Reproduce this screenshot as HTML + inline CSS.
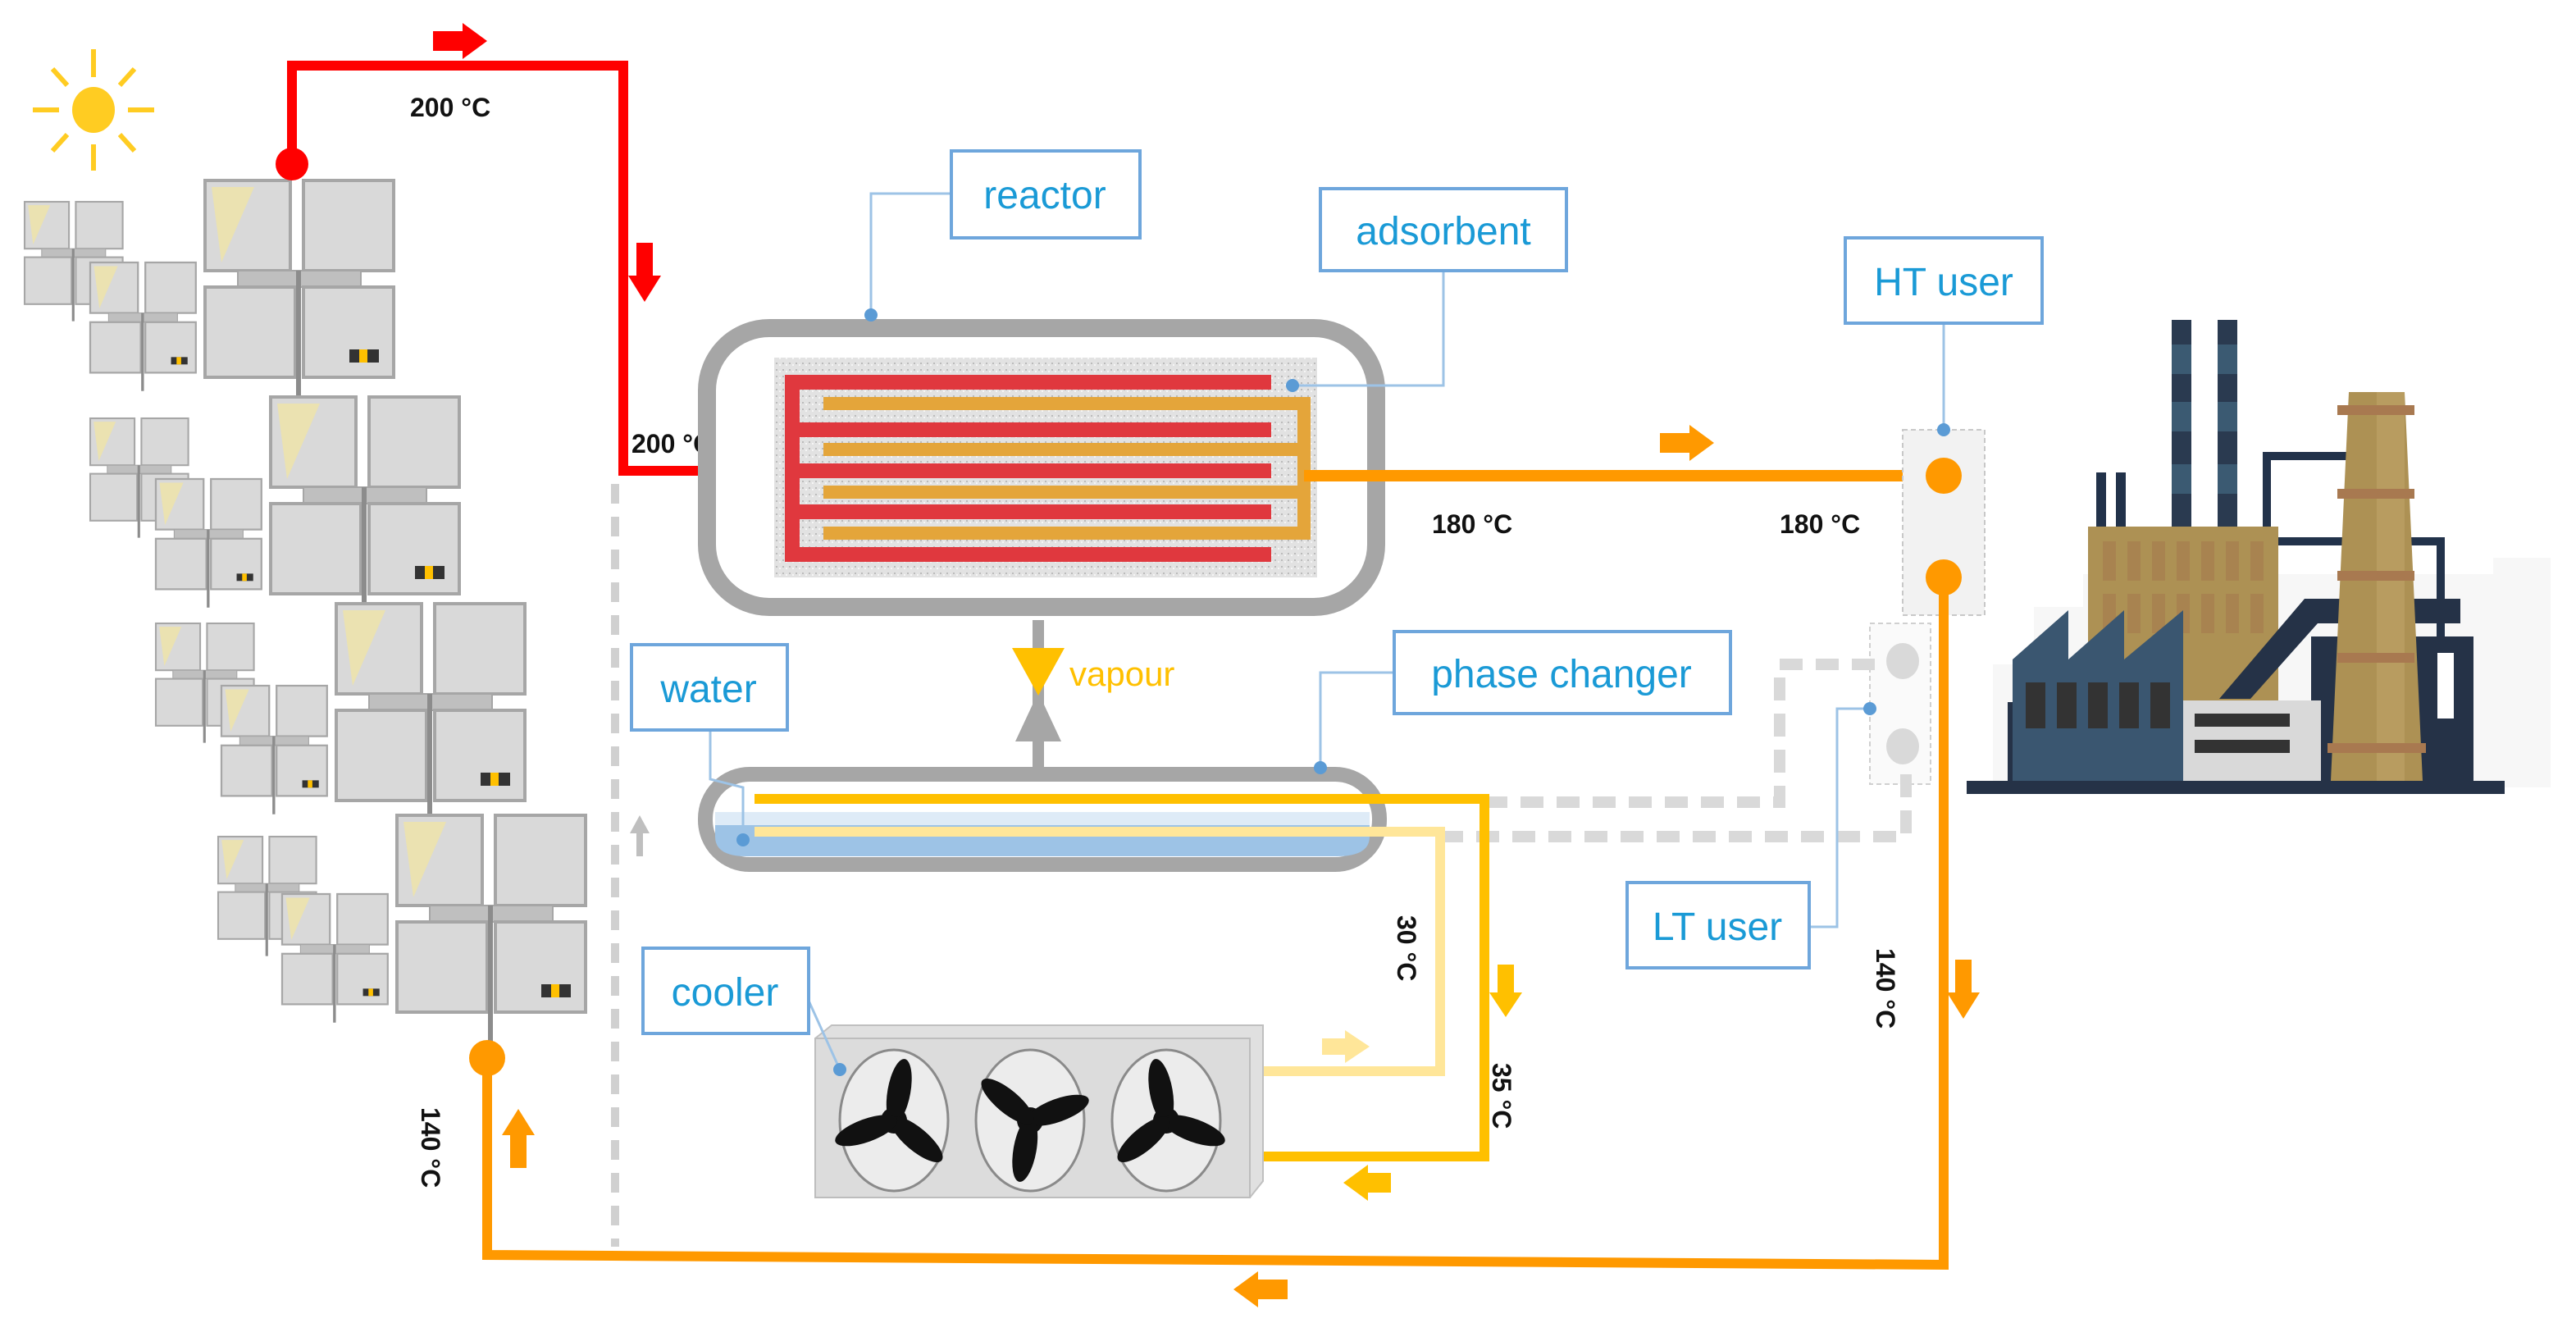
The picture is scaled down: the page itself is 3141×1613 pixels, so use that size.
<!DOCTYPE html>
<html><head><meta charset="utf-8">
<style>html,body{margin:0;padding:0;background:#fff}svg{display:block}</style>
</head><body>
<svg width="3141" height="1613" viewBox="0 0 1570.5 806.5" xmlns="http://www.w3.org/2000/svg" font-family="Liberation Sans, sans-serif">
<defs>
<g id="pg">
<rect x="0" y="0" width="52" height="55" fill="#d9d9d9" stroke="#a6a6a6" stroke-width="2"/>
<path d="M4 4 L30 4 L10 50 Z" fill="#f2e6a0" opacity="0.7"/>
<rect x="60" y="0" width="55" height="55" fill="#d9d9d9" stroke="#a6a6a6" stroke-width="2"/>
<rect x="20" y="55" width="75" height="10" fill="#bfbfbf" stroke="#a6a6a6"/>
<rect x="0" y="65" width="55" height="55" fill="#d9d9d9" stroke="#a6a6a6" stroke-width="2"/>
<rect x="60" y="65" width="55" height="55" fill="#d9d9d9" stroke="#a6a6a6" stroke-width="2"/>
<line x1="57" y1="55" x2="57" y2="140" stroke="#8c8c8c" stroke-width="3"/>
<rect x="88" y="103" width="18" height="8" fill="#333"/><rect x="94" y="103" width="5" height="8" fill="#ffc000"/>
</g>
<pattern id="dots" width="4" height="4" patternUnits="userSpaceOnUse">
<rect width="4" height="4" fill="#e2e2e2"/><rect x="1" y="1" width="1" height="1" fill="#bbb"/><rect x="3" y="2" width="1" height="1" fill="#f5f5f5"/>
</pattern>
</defs>

<!-- sun -->
<g stroke="#ffcc22" stroke-width="3">
<line x1="57" y1="30" x2="57" y2="47"/><line x1="57" y1="88" x2="57" y2="104"/>
<line x1="20" y1="67" x2="36" y2="67"/><line x1="78" y1="67" x2="94" y2="67"/>
<line x1="32" y1="42" x2="41" y2="52"/><line x1="82" y1="42" x2="73" y2="52"/>
<line x1="32" y1="92" x2="41" y2="82"/><line x1="82" y1="92" x2="73" y2="82"/>
</g>
<ellipse cx="57" cy="67" rx="13" ry="14" fill="#ffcc22"/>

<!-- solar panel groups -->
<use href="#pg" transform="translate(125,110)"/>
<use href="#pg" transform="translate(165,242)"/>
<use href="#pg" transform="translate(205,368)"/>
<use href="#pg" transform="translate(242,497)"/>
<use href="#pg" transform="translate(15,123) scale(0.52,0.52)"/>
<use href="#pg" transform="translate(55,160) scale(0.56,0.56)"/>
<use href="#pg" transform="translate(55,255) scale(0.52,0.52)"/>
<use href="#pg" transform="translate(95,292) scale(0.56,0.56)"/>
<use href="#pg" transform="translate(95,380) scale(0.52,0.52)"/>
<use href="#pg" transform="translate(135,418) scale(0.56,0.56)"/>
<use href="#pg" transform="translate(133,510) scale(0.52,0.52)"/>
<use href="#pg" transform="translate(172,545) scale(0.56,0.56)"/>

<!-- dotted gray divider -->
<line x1="375" y1="295" x2="375" y2="760" stroke="#d0d0d0" stroke-width="5" stroke-dasharray="12,8"/>
<polygon points="390,497 384,508 388,508 388,522 392,522 392,508 396,508" fill="#bfbfbf"/>

<!-- red pipe -->
<polyline points="178,100 178,40 380,40 380,287 478,287" fill="none" stroke="#ff0000" stroke-width="6"/>
<circle cx="178" cy="100" r="10" fill="#ff0000"/>
<polygon points="264,19 282,19 282,14 297,25 282,36 282,31 264,31" fill="#ff0000"/>
<polygon points="388,148 398,148 398,168 403,168 393,184 383,168 388,168" fill="#ff0000"/>
<text x="250" y="71" font-size="16" font-weight="bold" fill="#111">200 °C</text>
<text x="385" y="276" font-size="16" font-weight="bold" fill="#111">200 °C</text>

<!-- reactor -->
<rect x="431" y="200" width="408" height="170" rx="38" fill="#fff" stroke="#a6a6a6" stroke-width="11"/>
<rect x="472" y="218" width="331" height="134" fill="url(#dots)"/>
<g stroke="#e0383e" stroke-width="9" fill="none">
<polyline points="775,233 483,233 483,338 775,338"/>
<line x1="483" y1="262" x2="775" y2="262"/>
<line x1="483" y1="287" x2="775" y2="287"/>
<line x1="483" y1="312" x2="775" y2="312"/>
</g>
<g stroke="#e4a53a" stroke-width="8" fill="none">
<polyline points="502,246 795,246 795,325 502,325"/>
<line x1="502" y1="274" x2="795" y2="274"/>
<line x1="502" y1="300" x2="795" y2="300"/>
</g>

<!-- orange HT loop -->
<polyline points="795,290 1185,290" stroke="#ff9900" stroke-width="7" fill="none"/>
<polygon points="1012,264 1030,264 1030,259 1045,270 1030,281 1030,276 1012,276" fill="#ff9900"/>
<text x="873" y="325" font-size="16" font-weight="bold" fill="#111">180 °C</text>
<text x="1085" y="325" font-size="16" font-weight="bold" fill="#111">180 °C</text>
<rect x="1160" y="262" width="50" height="113" fill="#f2f2f2" stroke="#c8c8c8" stroke-dasharray="3,2"/>
<circle cx="1185" cy="290" r="11" fill="#ff9900"/>
<circle cx="1185" cy="352" r="11" fill="#ff9900"/>
<polyline points="1185,352 1185,771 297,765 297,645" stroke="#ff9900" stroke-width="6" fill="none"/>
<circle cx="297" cy="645" r="11" fill="#ff9900"/>
<polygon points="1192,585 1202,585 1202,605 1207,605 1197,621 1187,605 1192,605" fill="#ff9900"/>
<polygon points="311,712 321,712 321,692 326,692 316,676 306,692 311,692" fill="#ff9900"/>
<polygon points="785,780 767,780 767,775 752,786 767,797 767,792 785,792" fill="#ff9900"/>
<text transform="translate(1144,578) rotate(90)" font-size="16" font-weight="bold" fill="#111">140 °C</text>
<text transform="translate(257,675) rotate(90)" font-size="16" font-weight="bold" fill="#111">140 °C</text>

<!-- vapour -->
<line x1="633" y1="378" x2="633" y2="470" stroke="#a6a6a6" stroke-width="7"/>
<polygon points="619,452 647,452 633,422" fill="#a6a6a6"/>
<polygon points="617,395 649,395 633,424" fill="#ffc000"/>
<text x="652" y="418" font-size="21" fill="#ffc000">vapour</text>

<!-- phase changer vessel -->
<rect x="430" y="472" width="411" height="55" rx="27" fill="#fff" stroke="#a6a6a6" stroke-width="9"/>
<path d="M436 500 L835 500 L835 510 Q835 522 815 522 L455 522 Q436 522 436 510 Z" fill="#9dc3e6"/>
<rect x="436" y="495" width="399" height="8" fill="#deebf7"/>

<!-- gray dashed LT loop -->
<rect x="1140" y="380" width="37" height="98" fill="#fafafa" stroke="#d0d0d0" stroke-dasharray="3,2"/>
<ellipse cx="1160" cy="403" rx="10" ry="11" fill="#d9d9d9"/>
<ellipse cx="1160" cy="455" rx="10" ry="11" fill="#d9d9d9"/>
<polyline points="905,489 1085,489 1085,405 1150,405" stroke="#d9d9d9" stroke-width="7" fill="none" stroke-dasharray="14,8"/>
<polyline points="878,510 1162,510 1162,466" stroke="#d9d9d9" stroke-width="7" fill="none" stroke-dasharray="14,8"/>

<!-- yellow cooler loop -->
<polyline points="460,507 878,507 878,653 765,653" stroke="#ffe699" stroke-width="6" fill="none"/>
<polyline points="460,487 905,487 905,705 765,705" stroke="#ffc000" stroke-width="6" fill="none"/>
<polygon points="913,588 923,588 923,605 928,605 918,620 908,605 913,605" fill="#ffc000"/>
<polygon points="806,633 820,633 820,628 835,638 820,648 820,643 806,643" fill="#ffe699"/>
<polygon points="848,715 834,715 834,710 819,721 834,732 834,727 848,727" fill="#ffc000"/>
<text transform="translate(852,558) rotate(90)" font-size="16" font-weight="bold" fill="#111">30 °C</text>
<text transform="translate(910,648) rotate(90)" font-size="16" font-weight="bold" fill="#111">35 °C</text>

<!-- cooler -->
<polygon points="497,633 507,625 770,625 770,720 762,730 497,730" fill="#e0e0e0" stroke="#c0c0c0"/>
<rect x="497" y="633" width="265" height="97" fill="#dcdcdc" stroke="#bdbdbd"/>
<g fill="#ececec" stroke="#8a8a8a" stroke-width="1.5">
<ellipse cx="545" cy="683" rx="33" ry="43"/>
<ellipse cx="628" cy="683" rx="33" ry="43"/>
<ellipse cx="711" cy="683" rx="33" ry="43"/>
</g>
<g fill="#111">
<g transform="translate(545,683)"><circle r="8"/><ellipse rx="7" ry="20" transform="rotate(10) translate(0,-18)"/><ellipse rx="7" ry="20" transform="rotate(130) translate(0,-18)"/><ellipse rx="7" ry="20" transform="rotate(250) translate(0,-18)"/></g>
<g transform="translate(628,683)"><circle r="8"/><ellipse rx="7" ry="20" transform="rotate(70) translate(0,-18)"/><ellipse rx="7" ry="20" transform="rotate(190) translate(0,-18)"/><ellipse rx="7" ry="20" transform="rotate(310) translate(0,-18)"/></g>
<g transform="translate(711,683)"><circle r="8"/><ellipse rx="7" ry="20" transform="rotate(-10) translate(0,-18)"/><ellipse rx="7" ry="20" transform="rotate(110) translate(0,-18)"/><ellipse rx="7" ry="20" transform="rotate(230) translate(0,-18)"/></g>
</g>

<!-- factory -->
<g>
<path d="M1215 480 L1215 405 L1240 405 L1240 370 L1270 370 L1270 350 L1520 350 L1520 340 L1555 340 L1555 480 Z" fill="#f7f7f7"/>
<rect x="1324" y="195" width="12" height="126" fill="#2a3a50"/>
<rect x="1352" y="195" width="12" height="126" fill="#2a3a50"/>
<g fill="#3b5a72"><rect x="1324" y="210" width="12" height="18"/><rect x="1324" y="245" width="12" height="18"/><rect x="1324" y="283" width="12" height="18"/><rect x="1352" y="210" width="12" height="18"/><rect x="1352" y="245" width="12" height="18"/><rect x="1352" y="283" width="12" height="18"/></g>
<rect x="1278" y="288" width="6" height="34" fill="#22324a"/>
<rect x="1290" y="288" width="6" height="34" fill="#22324a"/>
<polyline points="1382,322 1382,278 1432,278" stroke="#22324a" stroke-width="5" fill="none"/>
<polyline points="1388,330 1488,330 1488,395" stroke="#22324a" stroke-width="5" fill="none"/>
<rect x="1273" y="321" width="116" height="107" fill="#ad9154"/>
<g fill="#a88050" opacity="0.8">
<rect x="1282" y="330" width="8" height="24"/><rect x="1297" y="330" width="8" height="24"/><rect x="1312" y="330" width="8" height="24"/><rect x="1327" y="330" width="8" height="24"/><rect x="1342" y="330" width="8" height="24"/><rect x="1357" y="330" width="8" height="24"/><rect x="1372" y="330" width="8" height="24"/>
<rect x="1282" y="362" width="8" height="24"/><rect x="1297" y="362" width="8" height="24"/><rect x="1312" y="362" width="8" height="24"/><rect x="1327" y="362" width="8" height="24"/><rect x="1342" y="362" width="8" height="24"/><rect x="1357" y="362" width="8" height="24"/><rect x="1372" y="362" width="8" height="24"/>
</g>
<rect x="1409" y="388" width="99" height="90" fill="#253247"/>
<polygon points="1353,426 1405,365 1500,365 1500,380 1413,380 1372,426" fill="#253247"/>
<rect x="1486" y="398" width="10" height="40" fill="#fff"/>
<polygon points="1432,239 1466,239 1477,476 1421,476" fill="#ad9154"/>
<rect x="1449" y="239" width="17" height="237" fill="#b89c60"/>
<g fill="#a87950"><rect x="1425" y="247" width="47" height="6"/><rect x="1425" y="298" width="47" height="6"/><rect x="1425" y="348" width="47" height="6"/><rect x="1425" y="398" width="47" height="6"/><rect x="1419" y="453" width="60" height="6"/></g>
<rect x="1331" y="427" width="84" height="50" fill="#d9d9d9"/>
<rect x="1338" y="435" width="58" height="8" fill="#333"/><rect x="1338" y="451" width="58" height="8" fill="#333"/>
<polyline points="1226,478 1226,430 1233,430" stroke="#253247" stroke-width="4" fill="none"/>
<polygon points="1227,402 1261,372 1261,402 1295,372 1295,402 1331,372 1331,478 1227,478" fill="#3a5670"/>
<g fill="#333"><rect x="1235" y="416" width="12" height="28"/><rect x="1254" y="416" width="12" height="28"/><rect x="1273" y="416" width="12" height="28"/><rect x="1292" y="416" width="12" height="28"/><rect x="1311" y="416" width="12" height="28"/></g>
<rect x="1199" y="476" width="328" height="8" fill="#253247"/>
</g>

<!-- leader lines -->
<g stroke="#9dc3e6" stroke-width="1.5" fill="none">
<polyline points="580,118 531,118 531,192"/>
<polyline points="880,165 880,235 788,235"/>
<polyline points="1185,197 1185,262"/>
<polyline points="433,445 433,475 453,480 453,512"/>
<polyline points="850,410 805,410 805,468"/>
<polyline points="493,610 512,652"/>
<polyline points="1103,565 1120,565 1120,432 1140,432"/>
</g>
<g fill="#5b9bd5">
<circle cx="531" cy="192" r="4"/><circle cx="788" cy="235" r="4"/><circle cx="1185" cy="262" r="4"/>
<circle cx="453" cy="512" r="4"/><circle cx="805" cy="468" r="4"/><circle cx="512" cy="652" r="4"/><circle cx="1140" cy="432" r="4"/>
</g>

<!-- label boxes -->
<g fill="#fff" stroke="#6ea6dc" stroke-width="2">
<rect x="580" y="92" width="115" height="53"/>
<rect x="805" y="115" width="150" height="50"/>
<rect x="1125" y="145" width="120" height="52"/>
<rect x="385" y="393" width="95" height="52"/>
<rect x="850" y="385" width="205" height="50"/>
<rect x="392" y="578" width="101" height="52"/>
<rect x="992" y="538" width="111" height="52"/>
</g>
<g fill="#1a9ad6" font-size="24" text-anchor="middle">
<text x="637" y="127">reactor</text>
<text x="880" y="149">adsorbent</text>
<text x="1185" y="180">HT user</text>
<text x="432" y="428">water</text>
<text x="952" y="419">phase changer</text>
<text x="442" y="613">cooler</text>
<text x="1047" y="573">LT user</text>
</g>
</svg>
</body></html>
